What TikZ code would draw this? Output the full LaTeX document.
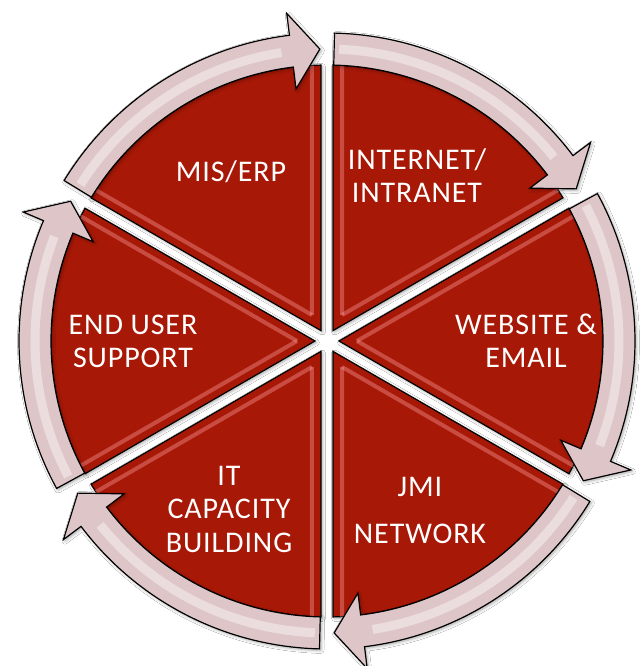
\documentclass[tikz,border=0pt]{standalone}
\usepackage{fontspec}
\setmainfont{Carlito}[LetterSpace=3]
\usetikzlibrary{calc,shadows.blur}
\definecolor{slicered}{RGB}{168,24,6}
\definecolor{ringpink}{RGB}{222,198,200}
\definecolor{bevelpink}{RGB}{245,150,150}
\tikzset{
  slicefill/.style={fill=slicered, draw=black, line width=1.2pt,
    blur shadow={shadow xshift=1.5pt, shadow yshift=-1.5pt, shadow blur radius=3pt, shadow opacity=35}},
  ringarrow/.style={fill=ringpink, draw=black, line width=1.2pt, line join=miter,
    blur shadow={shadow xshift=1.5pt, shadow yshift=-1.5pt, shadow blur radius=3pt, shadow opacity=35}},
  bevelline/.style={draw=bevelpink, opacity=0.42, line width=4pt},
  gloss/.style={draw=white, opacity=0.4, line width=9pt},
  lbl/.style={text=white, font=\fontsize{30}{33.5}\selectfont, align=center, anchor=base, inner sep=0pt},
}
\begin{document}
\begin{tikzpicture}[x=1pt,y=1pt]
\useasboundingbox (-327,-325) rectangle (315,341);
\fill[white] (-327,-325) rectangle (315,341);
% slices
\foreach \a in {150,90,30,-30,-90,-150} {
  \pgfmathsetmacro\b{\a-60}
  \pgfmathsetmacro\m{\a-30}
  \pgfmathsetmacro\sa{\a-1.25}
  \pgfmathsetmacro\sb{\b+1.25}
  \path[slicefill] (\m:12) -- (\sa:276) arc[start angle=\sa, end angle=\sb, radius=276] -- cycle;
  \begin{scope}
    \clip (\m:12) -- (\sa:276) arc[start angle=\sa, end angle=\sb, radius=276] -- cycle;
    \pgfmathsetmacro\pa{\a-3.0}
    \pgfmathsetmacro\pb{\b+3.0}
    \path[bevelline] (\m:30) -- (\pa:290);
    \path[bevelline] (\m:30) -- (\pb:290);
  \end{scope}
}
% ring arrows
\foreach \g in {150,90,30,-30,-90,-150} {
  \pgfmathsetmacro\s{\g-1.4}
  \pgfmathsetmacro\e{\g-60+1.4}
  \pgfmathsetmacro\hb{\e+5.6}
  \pgfmathsetmacro\gs{\s-1}
  \pgfmathsetmacro\ge{\hb+2}
  \path[ringarrow] (\s:308) arc[start angle=\s, end angle=\hb, radius=308]
    -- (\hb:330) -- (\e:292) -- (\hb:254) -- (\hb:276)
    arc[start angle=\hb, end angle=\s, radius=276] -- cycle;
  \path[gloss] (\gs:292) arc[start angle=\gs, end angle=\ge, radius=292];
}
% labels (anchor = baseline of last line)
\node[lbl] (mis) at (-96,159) {MIS/ERP};
\node[lbl] (internet) at (90,138) {INTERNET/\\INTRANET};
\node[lbl] (web) at (199,-27) {WEBSITE \&\\EMAIL};
\node[lbl] (jmi) at (93,-202) {JMI\\[13pt]NETWORK};
\node[lbl] (it) at (-98,-211) {IT\\CAPACITY\\BUILDING};
\node[lbl] (eus) at (-194,-27) {END USER\\SUPPORT};
\end{tikzpicture}
\end{document}
